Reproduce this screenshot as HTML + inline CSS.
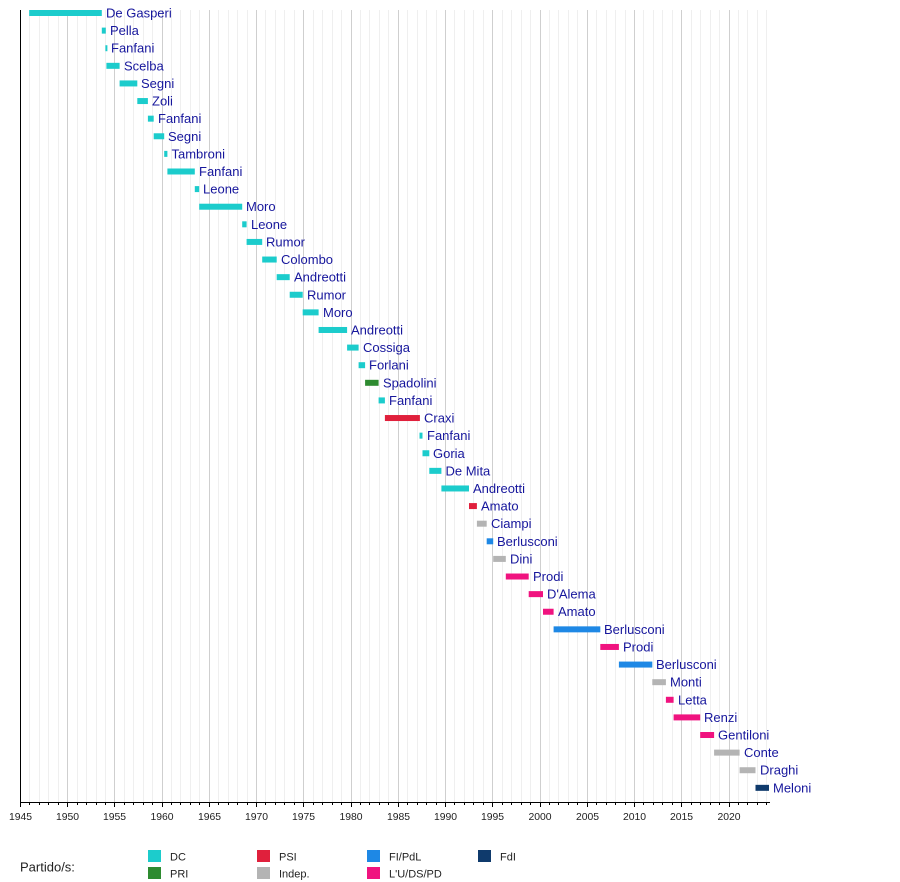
<!DOCTYPE html>
<html><head><meta charset="utf-8"><style>
html,body{margin:0;padding:0;background:#fff;}
svg{display:block;font-family:"Liberation Sans",Arial,sans-serif;}
.l{fill:#16169c;font-size:13px;}
.t{fill:#222;font-size:10.4px;text-anchor:middle;}
.g text{fill:#222;font-size:11px;}
.dc{fill:#1ccccc}.pri{fill:#2e8b30}.psi{fill:#e0203c}.ind{fill:#b4b4b4}.fi{fill:#1e88e5}.pd{fill:#f0137f}.fdi{fill:#0f3a6c}
</style></head><body>
<svg width="900" height="882" viewBox="0 0 900 882" xmlns="http://www.w3.org/2000/svg">
<rect width="900" height="882" fill="#fff"/>
<g stroke="#efefef" stroke-width="1" shape-rendering="crispEdges">
<line x1="29.5" y1="10" x2="29.5" y2="802"/><line x1="39.5" y1="10" x2="39.5" y2="802"/><line x1="48.5" y1="10" x2="48.5" y2="802"/><line x1="58.5" y1="10" x2="58.5" y2="802"/>
<line x1="77.5" y1="10" x2="77.5" y2="802"/><line x1="86.5" y1="10" x2="86.5" y2="802"/><line x1="96.5" y1="10" x2="96.5" y2="802"/><line x1="105.5" y1="10" x2="105.5" y2="802"/>
<line x1="124.5" y1="10" x2="124.5" y2="802"/><line x1="133.5" y1="10" x2="133.5" y2="802"/><line x1="143.5" y1="10" x2="143.5" y2="802"/><line x1="152.5" y1="10" x2="152.5" y2="802"/>
<line x1="171.5" y1="10" x2="171.5" y2="802"/><line x1="180.5" y1="10" x2="180.5" y2="802"/><line x1="190.5" y1="10" x2="190.5" y2="802"/><line x1="199.5" y1="10" x2="199.5" y2="802"/>
<line x1="218.5" y1="10" x2="218.5" y2="802"/><line x1="228.5" y1="10" x2="228.5" y2="802"/><line x1="237.5" y1="10" x2="237.5" y2="802"/><line x1="247.5" y1="10" x2="247.5" y2="802"/>
<line x1="265.5" y1="10" x2="265.5" y2="802"/><line x1="275.5" y1="10" x2="275.5" y2="802"/><line x1="284.5" y1="10" x2="284.5" y2="802"/><line x1="294.5" y1="10" x2="294.5" y2="802"/>
<line x1="313.5" y1="10" x2="313.5" y2="802"/><line x1="322.5" y1="10" x2="322.5" y2="802"/><line x1="332.5" y1="10" x2="332.5" y2="802"/><line x1="341.5" y1="10" x2="341.5" y2="802"/>
<line x1="360.5" y1="10" x2="360.5" y2="802"/><line x1="369.5" y1="10" x2="369.5" y2="802"/><line x1="379.5" y1="10" x2="379.5" y2="802"/><line x1="388.5" y1="10" x2="388.5" y2="802"/>
<line x1="407.5" y1="10" x2="407.5" y2="802"/><line x1="417.5" y1="10" x2="417.5" y2="802"/><line x1="426.5" y1="10" x2="426.5" y2="802"/><line x1="436.5" y1="10" x2="436.5" y2="802"/>
<line x1="454.5" y1="10" x2="454.5" y2="802"/><line x1="464.5" y1="10" x2="464.5" y2="802"/><line x1="473.5" y1="10" x2="473.5" y2="802"/><line x1="483.5" y1="10" x2="483.5" y2="802"/>
<line x1="502.5" y1="10" x2="502.5" y2="802"/><line x1="511.5" y1="10" x2="511.5" y2="802"/><line x1="521.5" y1="10" x2="521.5" y2="802"/><line x1="530.5" y1="10" x2="530.5" y2="802"/>
<line x1="549.5" y1="10" x2="549.5" y2="802"/><line x1="558.5" y1="10" x2="558.5" y2="802"/><line x1="568.5" y1="10" x2="568.5" y2="802"/><line x1="577.5" y1="10" x2="577.5" y2="802"/>
<line x1="596.5" y1="10" x2="596.5" y2="802"/><line x1="606.5" y1="10" x2="606.5" y2="802"/><line x1="615.5" y1="10" x2="615.5" y2="802"/><line x1="625.5" y1="10" x2="625.5" y2="802"/>
<line x1="643.5" y1="10" x2="643.5" y2="802"/><line x1="653.5" y1="10" x2="653.5" y2="802"/><line x1="662.5" y1="10" x2="662.5" y2="802"/><line x1="672.5" y1="10" x2="672.5" y2="802"/>
<line x1="691.5" y1="10" x2="691.5" y2="802"/><line x1="700.5" y1="10" x2="700.5" y2="802"/><line x1="710.5" y1="10" x2="710.5" y2="802"/><line x1="719.5" y1="10" x2="719.5" y2="802"/>
<line x1="738.5" y1="10" x2="738.5" y2="802"/><line x1="747.5" y1="10" x2="747.5" y2="802"/><line x1="757.5" y1="10" x2="757.5" y2="802"/><line x1="766.5" y1="10" x2="766.5" y2="802"/>
</g>
<g stroke="#cfcfcf" stroke-width="1" shape-rendering="crispEdges">
<line x1="67.5" y1="10" x2="67.5" y2="802"/><line x1="114.5" y1="10" x2="114.5" y2="802"/><line x1="162.5" y1="10" x2="162.5" y2="802"/><line x1="209.5" y1="10" x2="209.5" y2="802"/>
<line x1="256.5" y1="10" x2="256.5" y2="802"/><line x1="303.5" y1="10" x2="303.5" y2="802"/><line x1="351.5" y1="10" x2="351.5" y2="802"/><line x1="398.5" y1="10" x2="398.5" y2="802"/>
<line x1="445.5" y1="10" x2="445.5" y2="802"/><line x1="492.5" y1="10" x2="492.5" y2="802"/><line x1="540.5" y1="10" x2="540.5" y2="802"/><line x1="587.5" y1="10" x2="587.5" y2="802"/>
<line x1="634.5" y1="10" x2="634.5" y2="802"/><line x1="681.5" y1="10" x2="681.5" y2="802"/><line x1="729.5" y1="10" x2="729.5" y2="802"/>
</g>
<!-- axes -->
<g stroke="#000" stroke-width="1" shape-rendering="crispEdges">
<line x1="20.5" y1="10" x2="20.5" y2="802.5"/>
<line x1="20" y1="802.5" x2="770" y2="802.5"/>
<!-- major ticks -->
<line x1="20.5" y1="802" x2="20.5" y2="807"/><line x1="67.5" y1="802" x2="67.5" y2="807"/><line x1="114.5" y1="802" x2="114.5" y2="807"/><line x1="162.5" y1="802" x2="162.5" y2="807"/><line x1="209.5" y1="802" x2="209.5" y2="807"/><line x1="256.5" y1="802" x2="256.5" y2="807"/><line x1="303.5" y1="802" x2="303.5" y2="807"/><line x1="351.5" y1="802" x2="351.5" y2="807"/><line x1="398.5" y1="802" x2="398.5" y2="807"/><line x1="445.5" y1="802" x2="445.5" y2="807"/><line x1="492.5" y1="802" x2="492.5" y2="807"/><line x1="540.5" y1="802" x2="540.5" y2="807"/><line x1="587.5" y1="802" x2="587.5" y2="807"/><line x1="634.5" y1="802" x2="634.5" y2="807"/><line x1="681.5" y1="802" x2="681.5" y2="807"/><line x1="729.5" y1="802" x2="729.5" y2="807"/>
<!-- minor ticks -->
<g>
<line x1="29.5" y1="802" x2="29.5" y2="805"/><line x1="39.5" y1="802" x2="39.5" y2="805"/><line x1="48.5" y1="802" x2="48.5" y2="805"/><line x1="58.5" y1="802" x2="58.5" y2="805"/>
<line x1="77.5" y1="802" x2="77.5" y2="805"/><line x1="86.5" y1="802" x2="86.5" y2="805"/><line x1="96.5" y1="802" x2="96.5" y2="805"/><line x1="105.5" y1="802" x2="105.5" y2="805"/>
<line x1="124.5" y1="802" x2="124.5" y2="805"/><line x1="133.5" y1="802" x2="133.5" y2="805"/><line x1="143.5" y1="802" x2="143.5" y2="805"/><line x1="152.5" y1="802" x2="152.5" y2="805"/>
<line x1="171.5" y1="802" x2="171.5" y2="805"/><line x1="180.5" y1="802" x2="180.5" y2="805"/><line x1="190.5" y1="802" x2="190.5" y2="805"/><line x1="199.5" y1="802" x2="199.5" y2="805"/>
<line x1="218.5" y1="802" x2="218.5" y2="805"/><line x1="228.5" y1="802" x2="228.5" y2="805"/><line x1="237.5" y1="802" x2="237.5" y2="805"/><line x1="247.5" y1="802" x2="247.5" y2="805"/>
<line x1="265.5" y1="802" x2="265.5" y2="805"/><line x1="275.5" y1="802" x2="275.5" y2="805"/><line x1="284.5" y1="802" x2="284.5" y2="805"/><line x1="294.5" y1="802" x2="294.5" y2="805"/>
<line x1="313.5" y1="802" x2="313.5" y2="805"/><line x1="322.5" y1="802" x2="322.5" y2="805"/><line x1="332.5" y1="802" x2="332.5" y2="805"/><line x1="341.5" y1="802" x2="341.5" y2="805"/>
<line x1="360.5" y1="802" x2="360.5" y2="805"/><line x1="369.5" y1="802" x2="369.5" y2="805"/><line x1="379.5" y1="802" x2="379.5" y2="805"/><line x1="388.5" y1="802" x2="388.5" y2="805"/>
<line x1="407.5" y1="802" x2="407.5" y2="805"/><line x1="417.5" y1="802" x2="417.5" y2="805"/><line x1="426.5" y1="802" x2="426.5" y2="805"/><line x1="436.5" y1="802" x2="436.5" y2="805"/>
<line x1="454.5" y1="802" x2="454.5" y2="805"/><line x1="464.5" y1="802" x2="464.5" y2="805"/><line x1="473.5" y1="802" x2="473.5" y2="805"/><line x1="483.5" y1="802" x2="483.5" y2="805"/>
<line x1="502.5" y1="802" x2="502.5" y2="805"/><line x1="511.5" y1="802" x2="511.5" y2="805"/><line x1="521.5" y1="802" x2="521.5" y2="805"/><line x1="530.5" y1="802" x2="530.5" y2="805"/>
<line x1="549.5" y1="802" x2="549.5" y2="805"/><line x1="558.5" y1="802" x2="558.5" y2="805"/><line x1="568.5" y1="802" x2="568.5" y2="805"/><line x1="577.5" y1="802" x2="577.5" y2="805"/>
<line x1="596.5" y1="802" x2="596.5" y2="805"/><line x1="606.5" y1="802" x2="606.5" y2="805"/><line x1="615.5" y1="802" x2="615.5" y2="805"/><line x1="625.5" y1="802" x2="625.5" y2="805"/>
<line x1="643.5" y1="802" x2="643.5" y2="805"/><line x1="653.5" y1="802" x2="653.5" y2="805"/><line x1="662.5" y1="802" x2="662.5" y2="805"/><line x1="672.5" y1="802" x2="672.5" y2="805"/>
<line x1="691.5" y1="802" x2="691.5" y2="805"/><line x1="700.5" y1="802" x2="700.5" y2="805"/><line x1="710.5" y1="802" x2="710.5" y2="805"/><line x1="719.5" y1="802" x2="719.5" y2="805"/>
<line x1="738.5" y1="802" x2="738.5" y2="805"/><line x1="747.5" y1="802" x2="747.5" y2="805"/><line x1="757.5" y1="802" x2="757.5" y2="805"/><line x1="766.5" y1="802" x2="766.5" y2="805"/>
</g>
</g>
<!-- tick labels -->
<g class="t">
<text x="20.5" y="820">1945</text><text x="67.5" y="820">1950</text><text x="114.5" y="820">1955</text><text x="162" y="820">1960</text><text x="209.5" y="820">1965</text><text x="256.5" y="820">1970</text><text x="303.5" y="820">1975</text><text x="351" y="820">1980</text><text x="398.5" y="820">1985</text><text x="445.5" y="820">1990</text><text x="492.5" y="820">1995</text><text x="540" y="820">2000</text><text x="587.5" y="820">2005</text><text x="634.5" y="820">2010</text><text x="681.5" y="820">2015</text><text x="729" y="820">2020</text>
</g>
<!-- bars -->
<g>
<rect class="dc" x="29.2" y="10" width="72.6" height="6"/>
<rect class="dc" x="101.8" y="27.61" width="4" height="6"/>
<rect class="dc" x="105.4" y="45.22" width="2" height="6"/>
<rect class="dc" x="106.4" y="62.83" width="13.2" height="6"/>
<rect class="dc" x="119.6" y="80.44" width="17.7" height="6"/>
<rect class="dc" x="137.3" y="98.05" width="10.6" height="6"/>
<rect class="dc" x="147.9" y="115.66" width="5.8" height="6"/>
<rect class="dc" x="153.7" y="133.27" width="10.5" height="6"/>
<rect class="dc" x="164.2" y="150.88" width="3.2" height="6"/>
<rect class="dc" x="167.4" y="168.49" width="27.4" height="6"/>
<rect class="dc" x="194.8" y="186.1" width="4.4" height="6"/>
<rect class="dc" x="199.2" y="203.71" width="43" height="6"/>
<rect class="dc" x="242.2" y="221.32" width="4.4" height="6"/>
<rect class="dc" x="246.6" y="238.93" width="15.6" height="6"/>
<rect class="dc" x="262.2" y="256.54" width="14.5" height="6"/>
<rect class="dc" x="276.7" y="274.15" width="13" height="6"/>
<rect class="dc" x="289.7" y="291.76" width="13" height="6"/>
<rect class="dc" x="302.7" y="309.37" width="15.9" height="6"/>
<rect class="dc" x="318.6" y="326.98" width="28.5" height="6"/>
<rect class="dc" x="347.1" y="344.59" width="11.5" height="6"/>
<rect class="dc" x="358.6" y="362.2" width="6.5" height="6"/>
<rect class="pri" x="365.1" y="379.81" width="13.5" height="6"/>
<rect class="dc" x="378.6" y="397.42" width="6.3" height="6"/>
<rect class="psi" x="384.9" y="415.03" width="35" height="6"/>
<rect class="dc" x="419.5" y="432.64" width="3" height="6"/>
<rect class="dc" x="422.5" y="450.25" width="6.8" height="6"/>
<rect class="dc" x="429.3" y="467.86" width="12.1" height="6"/>
<rect class="dc" x="441.4" y="485.47" width="27.6" height="6"/>
<rect class="psi" x="469" y="503.08" width="7.9" height="6"/>
<rect class="ind" x="476.9" y="520.69" width="9.8" height="6"/>
<rect class="fi" x="486.7" y="538.3" width="6.5" height="6"/>
<rect class="ind" x="493.2" y="555.91" width="12.6" height="6"/>
<rect class="pd" x="505.8" y="573.52" width="22.9" height="6"/>
<rect class="pd" x="528.7" y="591.13" width="14.3" height="6"/>
<rect class="pd" x="543" y="608.74" width="10.6" height="6"/>
<rect class="fi" x="553.6" y="626.35" width="46.7" height="6"/>
<rect class="pd" x="600.3" y="643.96" width="18.6" height="6"/>
<rect class="fi" x="618.9" y="661.57" width="33.4" height="6"/>
<rect class="ind" x="652.3" y="679.18" width="13.6" height="6"/>
<rect class="pd" x="665.9" y="696.79" width="7.7" height="6"/>
<rect class="pd" x="673.6" y="714.4" width="26.6" height="6"/>
<rect class="pd" x="700.2" y="732.01" width="13.9" height="6"/>
<rect class="ind" x="714.1" y="749.62" width="25.5" height="6"/>
<rect class="ind" x="739.6" y="767.23" width="15.9" height="6"/>
<rect class="fdi" x="755.5" y="784.84" width="13.5" height="6"/>
</g>
<!-- labels -->
<g class="l">
<text x="106" y="17.5">De Gasperi</text>
<text x="110" y="35.1">Pella</text>
<text x="111" y="52.7">Fanfani</text>
<text x="124" y="70.3">Scelba</text>
<text x="141" y="87.9">Segni</text>
<text x="152" y="105.5">Zoli</text>
<text x="158" y="123.2">Fanfani</text>
<text x="168" y="140.8">Segni</text>
<text x="171.5" y="158.4">Tambroni</text>
<text x="199" y="176">Fanfani</text>
<text x="203" y="193.6">Leone</text>
<text x="246" y="211.2">Moro</text>
<text x="251" y="228.8">Leone</text>
<text x="266" y="246.4">Rumor</text>
<text x="281" y="264">Colombo</text>
<text x="294" y="281.7">Andreotti</text>
<text x="307" y="299.3">Rumor</text>
<text x="323" y="316.9">Moro</text>
<text x="351" y="334.5">Andreotti</text>
<text x="363" y="352.1">Cossiga</text>
<text x="369" y="369.7">Forlani</text>
<text x="383" y="387.3">Spadolini</text>
<text x="389" y="404.9">Fanfani</text>
<text x="424" y="422.5">Craxi</text>
<text x="427" y="440.1">Fanfani</text>
<text x="433" y="457.8">Goria</text>
<text x="445.5" y="475.4">De Mita</text>
<text x="473" y="493">Andreotti</text>
<text x="481" y="510.6">Amato</text>
<text x="491" y="528.2">Ciampi</text>
<text x="497" y="545.8">Berlusconi</text>
<text x="510" y="563.4">Dini</text>
<text x="533" y="581">Prodi</text>
<text x="547" y="598.6">D'Alema</text>
<text x="558" y="616.2">Amato</text>
<text x="604" y="633.9">Berlusconi</text>
<text x="623" y="651.5">Prodi</text>
<text x="656" y="669.1">Berlusconi</text>
<text x="670" y="686.7">Monti</text>
<text x="678" y="704.3">Letta</text>
<text x="704" y="721.9">Renzi</text>
<text x="718" y="739.5">Gentiloni</text>
<text x="744" y="757.1">Conte</text>
<text x="760" y="774.7">Draghi</text>
<text x="773" y="792.3">Meloni</text>
</g>
<!-- legend -->
<text x="20" y="871.5" style="fill:#222;font-size:13px;">Partido/s:</text>
<g class="g">
<rect class="dc" x="148" y="850" width="13" height="12"/><text x="170" y="860.5">DC</text>
<rect class="pri" x="148" y="867" width="13" height="12"/><text x="170" y="877.5">PRI</text>
<rect class="psi" x="257" y="850" width="13" height="12"/><text x="279" y="860.5">PSI</text>
<rect class="ind" x="257" y="867" width="13" height="12"/><text x="279" y="877.5">Indep.</text>
<rect class="fi" x="367" y="850" width="13" height="12"/><text x="389" y="860.5">FI/PdL</text>
<rect class="pd" x="367" y="867" width="13" height="12"/><text x="389" y="877.5">L'U/DS/PD</text>
<rect class="fdi" x="478" y="850" width="13" height="12"/><text x="500" y="860.5">FdI</text>
</g>
</svg>
</body></html>
